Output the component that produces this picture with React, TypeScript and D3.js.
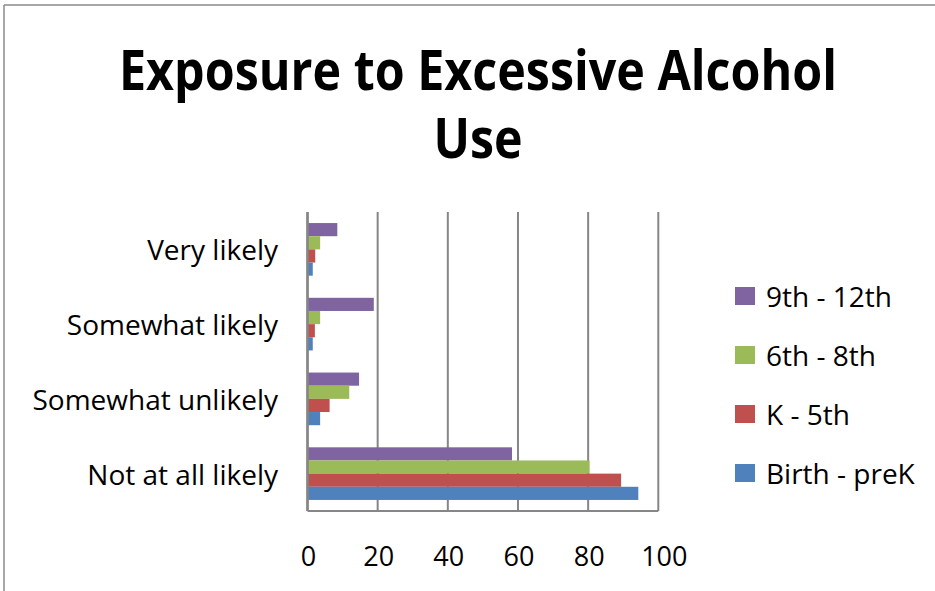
import React from "react";
import * as d3 from "d3";

const categories = ["Very likely", "Somewhat likely", "Somewhat unlikely", "Not at all likely"];
const seriesNames = ["9th - 12th", "6th - 8th", "K - 5th", "Birth - preK"];
const grade9to12 = [8.5, 18.9, 14.7, 58.3];
const grade6to8 = [3.6, 3.6, 11.9, 80.4];
const gradeKto5 = [2.2, 2.1, 6.3, 89.4];
const birthToPreK = [1.5, 1.5, 3.6, 94.3];
const seriesColors = ["#8064A2", "#9BBB59", "#C0504D", "#4F81BD"];
const xTicks = [0, 20, 40, 60, 80, 100];
const titleLines = ["Exposure to Excessive Alcohol", "Use"];

const W = 935;
const H = 591;
const FONT = "'Open Sans', 'Liberation Sans', sans-serif";

export default function App() {
  const seriesValues = [grade9to12, grade6to8, gradeKto5, birthToPreK];

  const x = d3.scaleLinear().domain([0, 100]).range([307.5, 658.3]);
  const y = d3.scaleBand<string>().domain(categories).range([212, 511]).padding(0);
  const inner = d3
    .scaleBand<string>()
    .domain(seriesNames)
    .range([0, y.bandwidth()])
    .paddingInner(0)
    .paddingOuter(0.84);

  const gridColor = "#868686";

  return (
    <svg
      width={W}
      height={H}
      style={{ position: "absolute", left: 0, top: 0, background: "#fff" }}
      fontFamily={FONT}
    >
      <rect x={0} y={0} width={W} height={H} fill="#fff" />
      {/* chart frame */}
      <line x1={4} y1={5} x2={W} y2={5} stroke="#8a8a8a" strokeWidth={1.5} />
      <line x1={4} y1={5} x2={4} y2={H} stroke="#8a8a8a" strokeWidth={1.5} />

      {/* title */}
      <text x={478} y={90} textAnchor="middle" fontSize={56} fontWeight={700} textLength={718} lengthAdjust="spacingAndGlyphs">
        {titleLines[0]}
      </text>
      <text x={478} y={158} textAnchor="middle" fontSize={56} fontWeight={700} textLength={89} lengthAdjust="spacingAndGlyphs">
        {titleLines[1]}
      </text>

      {/* vertical gridlines */}
      {xTicks.map((t) => (
        <line key={t} x1={x(t)} x2={x(t)} y1={212} y2={511} stroke={gridColor} strokeWidth={2} />
      ))}
      {/* bottom axis line */}
      <line x1={x(0)} x2={x(100)} y1={511} y2={511} stroke={gridColor} strokeWidth={2} />

      {/* bars */}
      {categories.map((c, ci) =>
        seriesNames.map((s, si) => (
          <rect
            key={c + s}
            x={x(0)}
            y={(y(c) ?? 0) + (inner(s) ?? 0)}
            width={x(seriesValues[si][ci]) - x(0)}
            height={inner.bandwidth()}
            fill={seriesColors[si]}
          />
        ))
      )}

      {/* value axis line on top of bars */}
      <line x1={x(0)} x2={x(0)} y1={212} y2={511} stroke={gridColor} strokeWidth={2.5} />

      {/* category labels */}
      {categories.map((c) => (
        <text key={c} x={278} y={(y(c) ?? 0) + y.bandwidth() / 2 + 11} textAnchor="end" fontSize={28} fill="#000">
          {c}
        </text>
      ))}

      {/* tick labels */}
      {xTicks.map((t) => (
        <text key={t} x={x(t) + (t === 100 ? 6 : 1)} y={566} textAnchor="middle" fontSize={27} fill="#000">
          {t}
        </text>
      ))}

      {/* legend */}
      {seriesNames.map((s, i) => {
        const cy = 296 + i * 59;
        return (
          <g key={s}>
            <rect x={735} y={cy - 9} width={20} height={18} fill={seriesColors[i]} />
            <text x={766} y={cy + 11} fontSize={28} fill="#000">
              {s}
            </text>
          </g>
        );
      })}
    </svg>
  );
}
